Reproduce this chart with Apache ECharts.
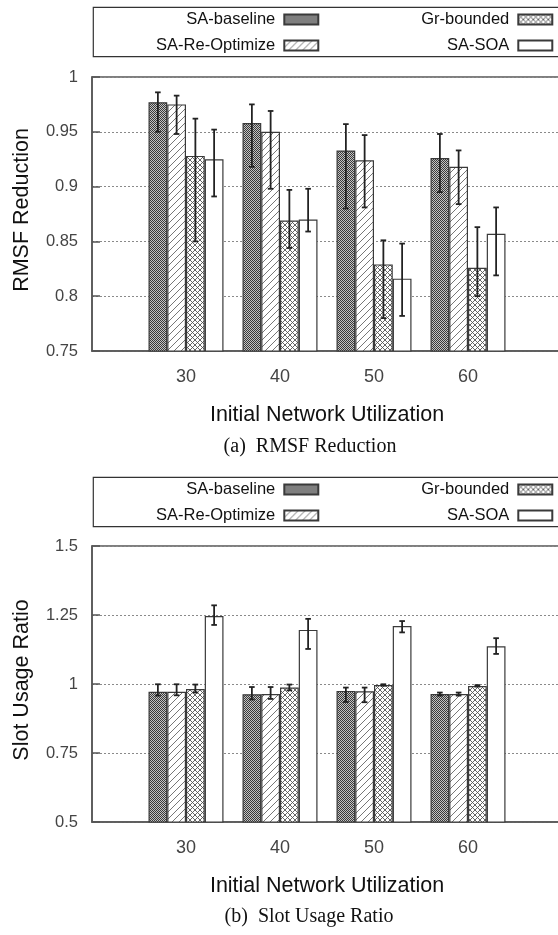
<!DOCTYPE html>
<html>
<head>
<meta charset="utf-8">
<script src="https://cdn.jsdelivr.net/npm/echarts@6/dist/echarts.min.js"></script>
<style>
html, body { margin: 0; padding: 0; background: #fff; }
#chart { width: 558px; height: 935px; }
</style>
</head>
<body>
<div id="chart"></div>
<script>
// x-axis tick labels (initial network utilization, %)
const utilization = ['30', '40', '50', '60'];
const methods = ['SA-baseline', 'SA-Re-Optimize', 'Gr-bounded', 'SA-SOA'];

// RMSF reduction: mean and lower / upper error bounds
const rmsfBaseline     = [0.977, 0.958, 0.933, 0.926];
const rmsfBaselineLow  = [0.950, 0.918, 0.880, 0.895];
const rmsfBaselineHigh = [0.986, 0.975, 0.957, 0.948];
const rmsfReopt        = [0.975, 0.950, 0.924, 0.918];
const rmsfReoptLow     = [0.948, 0.898, 0.881, 0.884];
const rmsfReoptHigh    = [0.983, 0.969, 0.947, 0.933];
const rmsfGr           = [0.928, 0.869, 0.829, 0.826];
const rmsfGrLow        = [0.850, 0.844, 0.780, 0.800];
const rmsfGrHigh       = [0.962, 0.897, 0.851, 0.863];
const rmsfSoa          = [0.925, 0.870, 0.816, 0.857];
const rmsfSoaLow       = [0.891, 0.859, 0.782, 0.819];
const rmsfSoaHigh      = [0.952, 0.898, 0.848, 0.881];

// Slot usage ratio: mean and lower / upper error bounds
const slotBaseline     = [0.972, 0.963, 0.975, 0.964];
const slotBaselineLow  = [0.958, 0.944, 0.935, 0.958];
const slotBaselineHigh = [0.999, 0.989, 0.987, 0.969];
const slotReopt        = [0.972, 0.964, 0.974, 0.964];
const slotReoptLow     = [0.959, 0.946, 0.934, 0.958];
const slotReoptHigh    = [0.999, 0.989, 0.987, 0.969];
const slotGr           = [0.982, 0.987, 0.996, 0.993];
const slotGrLow        = [0.969, 0.977, 0.994, 0.991];
const slotGrHigh       = [0.998, 0.998, 0.999, 0.996];
const slotSoa          = [1.246, 1.196, 1.210, 1.137];
const slotSoaLow       = [1.214, 1.127, 1.187, 1.109];
const slotSoaHigh      = [1.285, 1.236, 1.228, 1.166];

// y-axis ticks
const rmsfTicks = { min: 0.75, max: 1, interval: 0.05 };
const slotTicks = { min: 0.5, max: 1.5, interval: 0.25 };

const SANS = 'Liberation Sans, Arial, Helvetica, sans-serif';
const SERIF = 'Liberation Serif, Times New Roman, serif';
const BAR_W = 18.75;
const CAP = 2.8;
const AXIS_COLOR = '#555';

// padded category list: an empty slot on each side of the four groups
const categories = [''].concat(utilization, ['']);

function tile(size, draw) {
  const c = document.createElement('canvas');
  c.width = size; c.height = size;
  const ctx = c.getContext('2d');
  draw(ctx, size);
  return { image: c, repeat: 'repeat' };
}

// dense checker (dark grey)
const fillBaseline = tile(2, (ctx) => {
  ctx.fillStyle = '#c4c4c4'; ctx.fillRect(0, 0, 2, 2);
  ctx.fillStyle = '#3a3a3a'; ctx.fillRect(0, 0, 1, 1); ctx.fillRect(1, 1, 1, 1);
});
// forward-slash hatch
const fillReopt = tile(7, (ctx, s) => {
  ctx.fillStyle = '#fff'; ctx.fillRect(0, 0, s, s);
  ctx.strokeStyle = '#777'; ctx.lineWidth = 1;
  ctx.beginPath();
  ctx.moveTo(0, s); ctx.lineTo(s, 0);
  ctx.moveTo(-1, 1); ctx.lineTo(1, -1);
  ctx.moveTo(s - 1, s + 1); ctx.lineTo(s + 1, s - 1);
  ctx.stroke();
});
// cross hatch
const fillGr = tile(5, (ctx, s) => {
  ctx.fillStyle = '#fff'; ctx.fillRect(0, 0, s, s);
  ctx.strokeStyle = '#555'; ctx.lineWidth = 0.9;
  ctx.beginPath();
  ctx.moveTo(0, 0); ctx.lineTo(s, s);
  ctx.moveTo(0, s); ctx.lineTo(s, 0);
  ctx.stroke();
});
const fillSoa = '#ffffff';
const fills = [fillBaseline, fillReopt, fillGr, fillSoa];

function padded(values) {
  return ['-'].concat(values, ['-']);
}

function barSeries(name, values, fill, axisIndex) {
  return {
    type: 'bar',
    name: name,
    xAxisIndex: axisIndex,
    yAxisIndex: axisIndex,
    data: padded(values),
    barWidth: BAR_W,
    barGap: '0%',
    itemStyle: { color: fill, borderColor: '#3a3a3a', borderWidth: 1.2 },
    emphasis: { disabled: true },
    z: 2
  };
}

function errorData(lows, highs) {
  const out = [];
  lows.forEach((low, k) => {
    low.forEach((v, i) => out.push([i + 1, k, v, highs[k][i]]));
  });
  return out;
}

function renderErrorBar(params, api) {
  const cat = api.value(0);
  const k = api.value(1);
  const pLow = api.coord([cat, api.value(2)]);
  const pHigh = api.coord([cat, api.value(3)]);
  const x = pLow[0] + (k - 1.5) * BAR_W;
  const style = { stroke: '#222', lineWidth: 1.8 };
  return {
    type: 'group',
    children: [
      { type: 'line', shape: { x1: x, y1: pLow[1], x2: x, y2: pHigh[1] }, style: style },
      { type: 'line', shape: { x1: x - CAP, y1: pLow[1], x2: x + CAP, y2: pLow[1] }, style: style },
      { type: 'line', shape: { x1: x - CAP, y1: pHigh[1], x2: x + CAP, y2: pHigh[1] }, style: style }
    ]
  };
}

function errorSeries(data, axisIndex) {
  return {
    type: 'custom',
    xAxisIndex: axisIndex,
    yAxisIndex: axisIndex,
    data: data,
    encode: { x: 0, y: [2, 3] },
    renderItem: renderErrorBar,
    silent: true,
    z: 3
  };
}

function xAxis(gridIndex) {
  return {
    type: 'category',
    gridIndex: gridIndex,
    data: categories,
    boundaryGap: false,
    axisLine: { show: true, lineStyle: { color: AXIS_COLOR, width: 1.5 } },
    axisTick: { show: false },
    splitLine: { show: false },
    axisLabel: { interval: 0, color: '#444', fontFamily: SANS, fontSize: 18, margin: 17 },
    name: 'Initial Network Utilization',
    nameLocation: 'middle',
    nameGap: 53,
    nameTextStyle: { color: '#111', fontFamily: SANS, fontSize: 21.5 }
  };
}

function yAxis(gridIndex, ticks, title) {
  return {
    type: 'value',
    gridIndex: gridIndex,
    min: ticks.min,
    max: ticks.max,
    interval: ticks.interval,
    axisLine: { show: true, lineStyle: { color: AXIS_COLOR, width: 1.5 } },
    axisTick: { show: true, inside: true, length: 8, lineStyle: { color: AXIS_COLOR, width: 1.5 } },
    splitLine: { show: true, lineStyle: { color: '#8a8a8a', width: 1, type: [2, 2] } },
    axisLabel: { color: '#444', fontFamily: SANS, fontSize: 16.5, margin: 14 },
    name: title,
    nameLocation: 'middle',
    nameGap: 59,
    nameTextStyle: { color: '#111', fontFamily: SANS, fontSize: 21.5, padding: [0, 0, 0, 8] }
  };
}

function legendEntry(name, right, top) {
  return {
    data: [name],
    selectedMode: false,
    align: 'right',
    orient: 'horizontal',
    right: right,
    top: top,
    padding: 0,
    itemWidth: 34,
    itemHeight: 10,
    icon: 'rect',
    textStyle: { fontFamily: SANS, fontSize: 16.5, color: '#111', padding: [4, 4, 0, 0] }
  };
}

function legendBlock(top) {
  return [
    legendEntry(methods[0], 238.7, top),
    legendEntry(methods[2], 4.7, top),
    legendEntry(methods[1], 238.7, top + 26),
    legendEntry(methods[3], 4.7, top + 26)
  ];
}

const rmsfMeans = [rmsfBaseline, rmsfReopt, rmsfGr, rmsfSoa];
const slotMeans = [slotBaseline, slotReopt, slotGr, slotSoa];

const gridBase = { left: 92, width: 470, show: true, borderColor: AXIS_COLOR, borderWidth: 1.5, backgroundColor: 'transparent', containLabel: false, outerBoundsMode: 'none' };

const option = {
  animation: false,
  backgroundColor: '#fff',
  grid: [
    Object.assign({ top: 77, height: 274 }, gridBase),
    Object.assign({ top: 546, height: 276 }, gridBase)
  ],
  xAxis: [xAxis(0), xAxis(1)],
  yAxis: [yAxis(0, rmsfTicks, 'RMSF Reduction'), yAxis(1, slotTicks, 'Slot Usage Ratio')],
  legend: legendBlock(11).concat(legendBlock(481)),
  graphic: [
    { type: 'rect', shape: { x: 93.3, y: 7.3, width: 520, height: 49.3 }, style: { fill: 'none', stroke: '#333', lineWidth: 1.2 }, silent: true },
    { type: 'rect', shape: { x: 93.3, y: 477.3, width: 520, height: 49.3 }, style: { fill: 'none', stroke: '#333', lineWidth: 1.2 }, silent: true },
    { type: 'text', x: 310, y: 447, style: { text: '(a)\u2002RMSF Reduction', fontFamily: SERIF, fontSize: 20, fill: '#111', align: 'center', verticalAlign: 'middle' }, silent: true },
    { type: 'text', x: 309, y: 917, style: { text: '(b)\u2002Slot Usage Ratio', fontFamily: SERIF, fontSize: 20, fill: '#111', align: 'center', verticalAlign: 'middle' }, silent: true }
  ],
  series: []
    .concat(methods.map((m, k) => barSeries(m, rmsfMeans[k], fills[k], 0)))
    .concat([errorSeries(errorData(
      [rmsfBaselineLow, rmsfReoptLow, rmsfGrLow, rmsfSoaLow],
      [rmsfBaselineHigh, rmsfReoptHigh, rmsfGrHigh, rmsfSoaHigh]), 0)])
    .concat(methods.map((m, k) => barSeries(m, slotMeans[k], fills[k], 1)))
    .concat([errorSeries(errorData(
      [slotBaselineLow, slotReoptLow, slotGrLow, slotSoaLow],
      [slotBaselineHigh, slotReoptHigh, slotGrHigh, slotSoaHigh]), 1)])
};

const chart = echarts.init(document.getElementById('chart'), null, { renderer: 'canvas' });
chart.setOption(option);
</script>
</body>
</html>
